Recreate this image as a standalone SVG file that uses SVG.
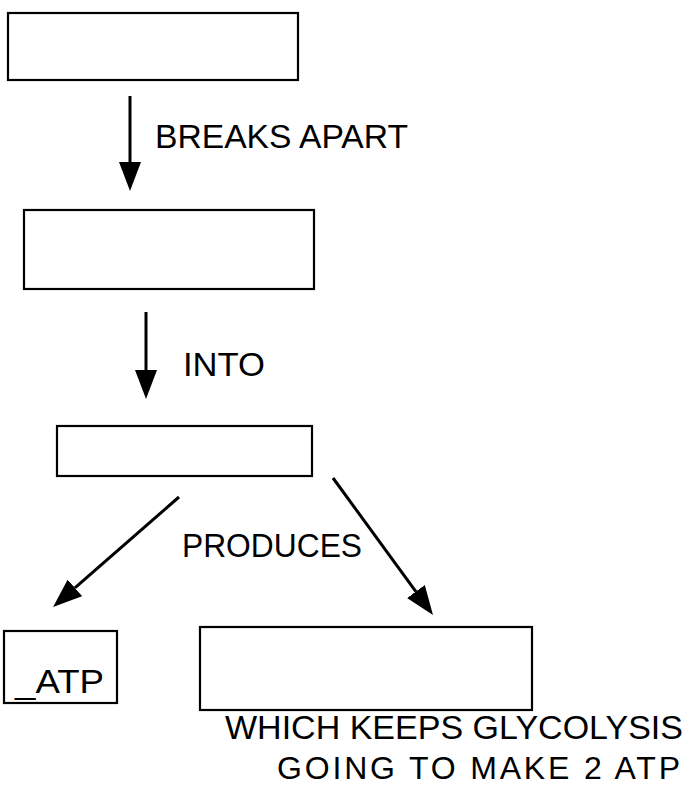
<svg xmlns="http://www.w3.org/2000/svg" width="689" height="787" viewBox="0 0 689 787">
<defs>
<style>
.box{fill:#fff;stroke:#000;stroke-width:2.2}
.conn{stroke:#000;stroke-width:3;fill:none}
.lbl{font-family:"Liberation Sans",Arial,sans-serif;font-size:34px;fill:#000}
</style>
<marker id="ah" markerUnits="userSpaceOnUse" markerWidth="30" markerHeight="22" refX="0" refY="11" orient="auto" viewBox="0 0 30 22">
<path d="M0,0 L29,11 L0,22 z" fill="#000"/>
</marker>
</defs>
<rect width="689" height="787" fill="#fff"/>
<g id="connectors">
<line class="conn" x1="130" y1="96" x2="130" y2="162" marker-end="url(#ah)"/>
<line class="conn" x1="146" y1="312" x2="146" y2="370" marker-end="url(#ah)"/>
<line class="conn" x1="179" y1="497" x2="74.9" y2="587.9" marker-end="url(#ah)"/>
<line class="conn" x1="333" y1="478" x2="415.9" y2="591.6" marker-end="url(#ah)"/>
<text class="lbl" x="155" y="148" textLength="253" lengthAdjust="spacingAndGlyphs">BREAKS APART</text>
<text class="lbl" x="183" y="376" textLength="82" lengthAdjust="spacingAndGlyphs">INTO</text>
<text class="lbl" x="182" y="557" textLength="180" lengthAdjust="spacingAndGlyphs">PRODUCES</text>
</g>
<g id="node1"><rect class="box" x="8" y="13" width="290" height="67"/></g>
<g id="node2"><rect class="box" x="24" y="210" width="290" height="79"/></g>
<g id="node3"><rect class="box" x="57" y="426" width="255" height="50"/></g>
<g id="node4"><rect class="box" x="4" y="631" width="113" height="72"/>
<text class="lbl" x="15" y="693" textLength="89" lengthAdjust="spacingAndGlyphs">_ATP</text></g>
<g id="node5"><rect class="box" x="200" y="627" width="332" height="83"/>
<text class="lbl" x="225" y="739" textLength="458" lengthAdjust="spacingAndGlyphs">WHICH KEEPS GLYCOLYSIS</text>
<text class="lbl" x="277" y="779" textLength="403" style="font-size:32px">GOING TO MAKE 2 ATP</text></g>
</svg>
